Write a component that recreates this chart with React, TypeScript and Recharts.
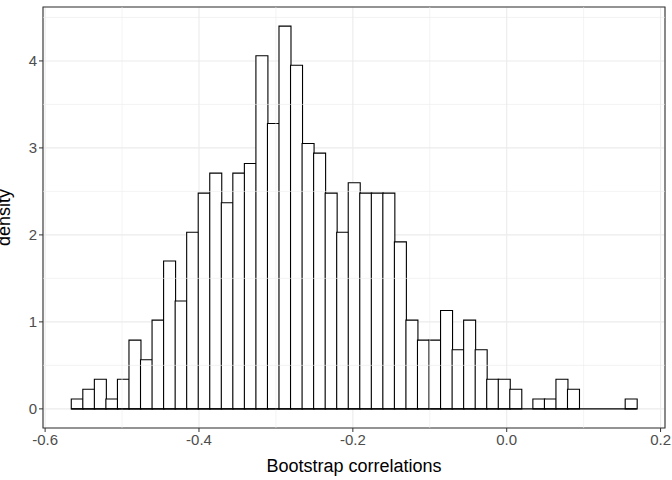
import { ComposedChart, Bar, XAxis, YAxis, CartesianGrid, ReferenceArea, ReferenceLine } from 'recharts'

// histogram bins (width 0.015), left edge of first bin at -0.566
const binStart = -0.566
const binWidth = 0.015
const densities = [
  0.113, 0.226, 0.34, 0.113, 0.34, 0.79, 0.565, 1.02, 1.7, 1.24,
  2.03, 2.48, 2.71, 2.37, 2.71, 2.82, 4.06, 3.28, 4.4, 3.95,
  3.05, 2.94, 2.48, 2.03, 2.6, 2.48, 2.48, 2.48, 1.92, 1.02,
  0.79, 0.79, 1.13, 0.68, 1.02, 0.68, 0.34, 0.34, 0.226, 0,
  0.113, 0.113, 0.34, 0.226, 0, 0, 0, 0, 0.113
]
const xTicks = [-0.6, -0.4, -0.2, 0, 0.2]
const xMinor = [-0.5, -0.3, -0.1, 0.1]
const yTicks = [0, 1, 2, 3, 4]
const yMinor = [0.5, 1.5, 2.5, 3.5, 4.5]

const binEnd = binStart + binWidth * densities.length
const xExp = (binEnd - binStart) * 0.05
const xDomain = [binStart - xExp, binEnd + xExp]
const yDomain = [-0.22, 4.62]

const data = densities.map((d, i) => ({ x: binStart + binWidth * (i + 0.5), density: d }))

const fmt = (v: number) => (Math.abs(v) < 1e-9 ? '0.0' : v.toFixed(1))

export default function App() {
  return (
    <div style={{ position: 'absolute', left: 0, top: 0, fontFamily: 'Liberation Sans, Arial, sans-serif' }}>
      <ComposedChart width={672} height={480} data={data} margin={{ top: 7, right: 7, left: 0, bottom: 0 }} barCategoryGap={0} barGap={0}>
        <XAxis
          dataKey="x"
          type="number"
          domain={xDomain}
          ticks={xTicks}
          tickFormatter={fmt}
          allowDataOverflow
          axisLine={false}
          tickLine={{ stroke: '#333' }}
          tickSize={4}
          tick={{ fill: '#4d4d4d', fontSize: 15 }}
          height={52}
          label={{ value: 'Bootstrap correlations', position: 'insideBottom', offset: 8, fill: '#000', fontSize: 18 }}
        />
        <YAxis
          type="number"
          domain={yDomain}
          ticks={yTicks}
          allowDataOverflow
          axisLine={false}
          tickLine={{ stroke: '#333' }}
          tickSize={4}
          tick={{ fill: '#4d4d4d', fontSize: 15 }}
          width={43}
          label={{ value: 'density', angle: -90, position: 'insideLeft', offset: 4, fill: '#000', fontSize: 18, style: { textAnchor: 'middle' } }}
        />
        {xMinor.map((v) => (
          <ReferenceLine key={'xm' + v} x={v} stroke="#ebebeb" strokeWidth={0.6} />
        ))}
        {yMinor.map((v) => (
          <ReferenceLine key={'ym' + v} y={v} stroke="#ebebeb" strokeWidth={0.6} />
        ))}
        <CartesianGrid stroke="#ebebeb" strokeWidth={1.1} />
        <Bar dataKey="density" fill="#fff" stroke="#000" strokeWidth={1.1} isAnimationActive={false} />
        <ReferenceLine segment={[{ x: binStart, y: 0 }, { x: binEnd, y: 0 }]} stroke="#000" strokeWidth={1.1} />
        <ReferenceArea
          x1={xDomain[0]}
          x2={xDomain[1]}
          y1={yDomain[0]}
          y2={yDomain[1]}
          fill="none"
          stroke="#333"
          strokeWidth={1.1}
          ifOverflow="visible"
        />
      </ComposedChart>
    </div>
  )
}
